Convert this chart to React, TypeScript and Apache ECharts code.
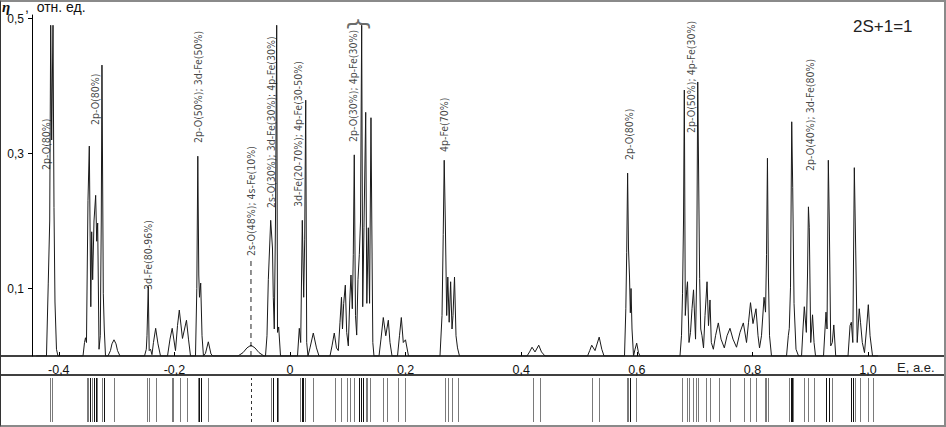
import React, { useEffect, useRef } from 'react';
import * as echarts from 'echarts';

// Spectrum trace: [E (a.e.), eta (rel. units)]
const spectrum: [number, number][] = [
  [-0.4390, 0],
  [-0.4213, 0], [-0.4182, 0.108], [-0.4157, 0.2], [-0.4140, 0.49], [-0.4123, 0.32], [-0.4100, 0.49], [-0.4083, 0.22], [-0.4066, 0.08], [-0.4040, 0.01], [-0.4014, 0],
  [-0.3581, 0], [-0.3555, 0.02], [-0.3538, 0.027], [-0.3521, 0.02], [-0.3495, 0.23], [-0.3472, 0.311], [-0.3446, 0.073], [-0.3431, 0.184], [-0.3414, 0.113], [-0.3391, 0.2], [-0.3362, 0.238], [-0.3344, 0.17], [-0.3327, 0.197], [-0.3304, 0.01], [-0.3282, 0.03], [-0.3265, 0.2], [-0.3253, 0.431], [-0.3230, 0.093], [-0.3213, 0.04], [-0.3192, 0],
  [-0.3149, 0], [-0.3106, 0.008], [-0.3080, 0.018], [-0.3045, 0.024], [-0.3010, 0.018], [-0.2984, 0.008], [-0.2941, 0],
  [-0.2517, 0], [-0.2486, 0.01], [-0.2474, 0.03], [-0.2452, 0.103], [-0.2436, 0.008], [-0.2413, 0.01], [-0.2388, 0.002], [-0.2362, 0.02], [-0.2324, 0.041], [-0.2284, 0.018], [-0.2240, 0],
  [-0.2119, 0], [-0.2076, 0.025], [-0.2038, 0.041], [-0.1981, 0.008], [-0.1946, 0.045], [-0.1915, 0.068], [-0.1860, 0.026], [-0.1791, 0.053], [-0.1756, 0.025], [-0.1721, 0],
  [-0.1635, 0], [-0.1612, 0.1], [-0.1595, 0.296], [-0.1578, 0.12], [-0.1566, 0.087], [-0.1545, 0.108], [-0.1522, 0.03], [-0.1497, 0], [-0.1462, 0.004], [-0.1413, 0.021], [-0.1367, 0.003], [-0.1332, 0],
  [-0.0900, 0], [-0.0813, 0.005], [-0.0744, 0.012], [-0.0675, 0.016], [-0.0606, 0.012], [-0.0536, 0.005], [-0.0450, 0],
  [-0.0424, 0], [-0.0398, 0.03], [-0.0375, 0.113], [-0.0334, 0.201], [-0.0303, 0.16], [-0.0289, 0.087], [-0.0272, 0.04], [-0.0251, 0.2], [-0.0230, 0.49], [-0.0216, 0.035], [-0.0196, 0.043], [-0.0164, 0],
  [0.0130, 0], [0.0161, 0.041], [0.0185, 0.02], [0.0213, 0.201], [0.0237, 0.087], [0.0254, 0.172], [0.0272, 0.379], [0.0289, 0.02], [0.0311, 0], [0.0346, 0.012], [0.0403, 0.034], [0.0458, 0.012], [0.0502, 0],
  [0.0692, 0], [0.0727, 0.015], [0.0766, 0.034], [0.0804, 0.012], [0.0836, 0.008], [0.0865, 0.05], [0.0891, 0.087], [0.0908, 0.04], [0.0929, 0.078], [0.0957, 0.105], [0.0981, 0.035], [0.1009, 0.015], [0.1033, 0.08], [0.1055, 0.12], [0.1078, 0.07], [0.1095, 0.15], [0.1112, 0.298], [0.1133, 0.06], [0.1154, 0.031], [0.1176, 0.113], [0.1199, 0.15], [0.1220, 0.2], [0.1240, 0.49], [0.1258, 0.073], [0.1280, 0.19], [0.1310, 0.361], [0.1329, 0.078], [0.1355, 0.19], [0.1377, 0.078], [0.1401, 0.353], [0.1415, 0.2], [0.1433, 0.02], [0.1453, 0],
  [0.1540, 0], [0.1574, 0.025], [0.1614, 0.057], [0.1657, 0.03], [0.1701, 0.053], [0.1730, 0.02], [0.1765, 0],
  [0.1860, 0], [0.1894, 0.03], [0.1926, 0.057], [0.1960, 0.02], [0.1998, 0.024], [0.2050, 0],
  [0.2595, 0], [0.2630, 0.06], [0.2651, 0.18], [0.2668, 0.29], [0.2687, 0.2], [0.2711, 0.06], [0.2730, 0.117], [0.2754, 0.05], [0.2779, 0.11], [0.2803, 0.04], [0.2820, 0.06], [0.2846, 0.117], [0.2872, 0.03], [0.2898, 0.012], [0.2932, 0],
  [0.4100, 0], [0.4144, 0.006], [0.4187, 0.013], [0.4239, 0.006], [0.4303, 0.016], [0.4351, 0.006], [0.4412, 0],
  [0.5147, 0], [0.5185, 0.008], [0.5220, 0.016], [0.5277, 0.008], [0.5349, 0.028], [0.5394, 0.01], [0.5433, 0],
  [0.5787, 0], [0.5810, 0.07], [0.5825, 0.153], [0.5841, 0.271], [0.5856, 0.16], [0.5874, 0.117], [0.5888, 0.064], [0.5900, 0.1], [0.5917, 0.04], [0.5943, 0], [0.5969, 0.01], [0.5998, 0.019], [0.6029, 0.005], [0.6055, 0],
  [0.6747, 0], [0.6773, 0.03], [0.6791, 0.093], [0.6808, 0.2], [0.6822, 0.394], [0.6839, 0.06], [0.6863, 0.098], [0.6877, 0.11], [0.6903, 0.02], [0.6929, 0.035], [0.6955, 0.07], [0.6981, 0.098], [0.7016, 0.025], [0.7036, 0.12], [0.7054, 0.406], [0.7087, 0.115], [0.7106, 0.04], [0.7128, 0.03], [0.7154, 0.012], [0.7180, 0.06], [0.7215, 0.11], [0.7240, 0.045], [0.7266, 0.083], [0.7289, 0.02], [0.7324, 0.01], [0.7362, 0.03], [0.7410, 0.049], [0.7457, 0.025], [0.7514, 0.012], [0.7561, 0.03], [0.7612, 0.041], [0.7664, 0.025], [0.7725, 0.013], [0.7785, 0.035], [0.7843, 0.049], [0.7898, 0.02], [0.7933, 0.05], [0.7967, 0.079], [0.8010, 0.048], [0.8062, 0.07], [0.8097, 0.03], [0.8123, 0.012], [0.8157, 0.03], [0.8201, 0.087], [0.8227, 0.065], [0.8244, 0.15], [0.8260, 0.293], [0.8277, 0.117], [0.8296, 0.03], [0.8330, 0],
  [0.8590, 0], [0.8621, 0.03], [0.8638, 0.041], [0.8659, 0.102], [0.8680, 0.347], [0.8697, 0.25], [0.8720, 0.078], [0.8754, 0.01], [0.8798, 0],
  [0.8850, 0], [0.8875, 0.04], [0.8898, 0.073], [0.8933, 0.035], [0.8953, 0.12], [0.8969, 0.221], [0.8984, 0.19], [0.9009, 0.02], [0.9040, 0.061], [0.9066, 0.02], [0.9092, 0],
  [0.9230, 0], [0.9256, 0.04], [0.9273, 0.065], [0.9291, 0.04], [0.9313, 0.29], [0.9330, 0.2], [0.9355, 0.015], [0.9382, 0.02], [0.9408, 0.046], [0.9441, 0],
  [0.9654, 0], [0.9689, 0.045], [0.9711, 0.05], [0.9737, 0.02], [0.9763, 0.279], [0.9787, 0.157], [0.9813, 0.02], [0.9848, 0.07], [0.9870, 0.05], [0.9901, 0.02], [0.9939, 0.005], [0.9974, 0.04], [1.0005, 0.076], [1.0035, 0.03], [1.0078, 0],
  [1.0173, 0],
];

// Peak assignments: text, E at label, eta at label start
const labelTexts = [
  '2p-O(80%)', '2p-O(80%)', '3d-Fe(80-96%)', '2p-O(50%); 3d-Fe(50%)', '2s-O(48%); 4s-Fe(10%)',
  '2s-O(30%); 3d-Fe(30%); 4p-Fe(30%)', '3d-Fe(20-70%); 4p-Fe(30-50%)', '2p-O(30%); 4p-Fe(30%)',
  '4p-Fe(70%)', '2p-O(80%)', '2p-O(50%); 4p-Fe(30%)', '2p-O(40%); 3d-Fe(80%)',
];
const labelE = [-0.4221, -0.3374, -0.2448, -0.1583, -0.0675, -0.0320, 0.0138, 0.1090, 0.2664, 0.5865, 0.6938, 0.8997];
const labelEta = [0.2756, 0.3422, 0.0978, 0.3156, 0.1481, 0.2193, 0.2207, 0.3170, 0.3022, 0.2904, 0.3304, 0.2741];

// Dashed marker for the 2s-O level
const dashedMarker: [number, number][] = [[-0.0675, 0], [-0.0675, 0.142]];
// Brace over the 0.12 group
const bracePoint: [number, number][] = [[0.1202, 0.492]];

// Energy levels (lower panel)
const levelsDark = [-0.346, -0.339, -0.336, -0.322, -0.157, -0.154, -0.030, -0.023, 0.020, 0.023, 0.120, 0.123, 0.127, 0.588, 0.866, 0.869, 0.928, 0.933, 0.971, 0.974];
const levelsLight = [
  -0.416, -0.412, -0.352, -0.349, -0.342, -0.334, -0.325, -0.304, -0.248, -0.244, -0.232, -0.205, -0.202, -0.190, -0.179,
  -0.160, -0.141, -0.033, -0.020, 0.017, 0.026, 0.040, 0.078, 0.089, 0.098, 0.104, 0.110, 0.131, 0.134, 0.138,
  0.161, 0.167, 0.187, 0.199, 0.268, 0.274, 0.280, 0.291, 0.420, 0.432, 0.522, 0.535, 0.583, 0.585, 0.599,
  0.679, 0.686, 0.690, 0.698, 0.702, 0.706, 0.720, 0.726, 0.743, 0.761, 0.785, 0.795, 0.806, 0.821, 0.824, 0.827,
  0.863, 0.871, 0.889, 0.896, 0.906, 0.938, 0.977, 0.986, 1.000, 1.009,
];
const levelsDashed = [-0.068];

const xTicks = [-0.4, -0.2, 0, 0.2, 0.4, 0.6, 0.8, 1.0];
const yTicks = [0.1, 0.3, 0.5];

const fmt = (v: number) => (Math.abs(v) < 1e-9 ? '0' : v.toFixed(1).replace('.', ','));
const narrow = '"Liberation Sans Narrow", "Arial Narrow", "DejaVu Sans Condensed", sans-serif';
const sans = '"Liberation Sans", Arial, sans-serif';

function levelRenderer(color: string, dash?: number[]) {
  return (params: any, api: any) => {
    const e = api.value(0);
    const p1 = api.coord([e, 0.06]);
    const p2 = api.coord([e, 0.94]);
    return {
      type: 'line',
      shape: { x1: Math.round(p1[0]) + 0.5, y1: p1[1], x2: Math.round(p2[0]) + 0.5, y2: p2[1] },
      style: { stroke: color, lineWidth: 1, lineDash: dash },
    };
  };
}

export default function App() {
  const ref = useRef<HTMLDivElement>(null);
  useEffect(() => {
    document.body.style.margin = '0';
    const chart = echarts.init(ref.current!, null, { renderer: 'svg' });
    const xMin = -0.5017;
    const xMax = 1.1349;
    chart.setOption({
      animation: false,
      backgroundColor: '#fff',
      title: [
        {
          text: 'η', left: 2, top: 1, padding: 0,
          textStyle: { fontSize: 15, lineHeight: 12, fontWeight: 'bold', fontStyle: 'italic', fontFamily: '"Liberation Serif", serif', color: '#111' },
        },
        {
          text: ',  отн. ед.', left: 25, top: 1, padding: 0,
          textStyle: { fontSize: 14, lineHeight: 12, fontWeight: 'normal', fontFamily: sans, color: '#111' },
        },
        { text: '2S+1=1', left: 853, top: 18, padding: 0, textStyle: { fontSize: 17, fontWeight: 'normal', fontFamily: sans, color: '#222' } },
        { text: 'E, a.e.', left: 897, top: 361, padding: 0, textStyle: { fontSize: 13, fontWeight: 'normal', fontFamily: sans, color: '#222' } },
      ],
      grid: [
        { left: 0, right: 0, top: 15, bottom: 71 },
        { left: 0, right: 0, top: 375, bottom: 2 },
      ],
      xAxis: [
        {
          type: 'value', gridIndex: 0, min: xMin, max: xMax,
          axisLine: { show: true, lineStyle: { color: '#000', width: 1.5 } },
          axisTick: { show: true, inside: true, length: 4, customValues: xTicks, lineStyle: { color: '#000' } },
          axisLabel: { show: true, customValues: xTicks, formatter: fmt, margin: 7, fontSize: 12.5, color: '#111', fontFamily: sans },
          splitLine: { show: false },
        },
        {
          type: 'value', gridIndex: 1, min: xMin, max: xMax, position: 'top',
          axisLine: { show: true, onZero: false, lineStyle: { color: '#000', width: 1.5 } },
          axisTick: { show: false }, axisLabel: { show: false }, splitLine: { show: false },
        },
      ],
      yAxis: [
        {
          type: 'value', gridIndex: 0, min: 0, max: 0.5052, position: 'left', offset: -32,
          axisLine: { show: true, onZero: false, lineStyle: { color: '#000', width: 1 } },
          axisTick: { show: true, length: 4, customValues: yTicks, lineStyle: { color: '#000' } },
          axisLabel: { show: true, customValues: yTicks, formatter: fmt, margin: 8, fontSize: 12, lineHeight: 10, color: '#111', fontFamily: sans },
          splitLine: { show: false },
        },
        {
          type: 'value', gridIndex: 1, min: 0, max: 1, show: false,
        },
      ],
      series: [
        {
          type: 'line', xAxisIndex: 0, yAxisIndex: 0, data: spectrum, showSymbol: false, symbol: 'none',
          lineStyle: { color: '#1a1a1a', width: 1 }, silent: true, z: 3,
        },
        {
          type: 'line', xAxisIndex: 0, yAxisIndex: 0, data: dashedMarker, showSymbol: false, symbol: 'none',
          lineStyle: { color: '#222', width: 1, type: [5, 4] }, silent: true,
        },
        {
          type: 'scatter', xAxisIndex: 0, yAxisIndex: 0, symbolSize: 0, silent: true, z: 4,
          data: labelTexts.map((t, i) => ({ value: [labelE[i], labelEta[i]], name: t })),
          label: {
            show: true, position: 'inside', rotate: 90, align: 'left', verticalAlign: 'middle',
            formatter: (p: any) => p.name, fontSize: 10.5, fontFamily: narrow, color: '#111',
          },
        },
        {
          type: 'scatter', xAxisIndex: 0, yAxisIndex: 0, symbolSize: 0, silent: true, z: 4,
          data: bracePoint,
          label: {
            show: true, position: 'inside', rotate: -90, align: 'center', verticalAlign: 'middle',
            formatter: '{', fontSize: 24, fontFamily: '"DejaVu Sans", sans-serif', color: '#444',
          },
        },
        {
          type: 'custom', xAxisIndex: 1, yAxisIndex: 1, silent: true,
          data: levelsLight.map((e) => [e, 0]),
          renderItem: levelRenderer('#7a7a7a'),
        },
        {
          type: 'custom', xAxisIndex: 1, yAxisIndex: 1, silent: true,
          data: levelsDark.map((e) => [e, 0]),
          renderItem: levelRenderer('#111'),
        },
        {
          type: 'custom', xAxisIndex: 1, yAxisIndex: 1, silent: true,
          data: levelsDashed.map((e) => [e, 0]),
          renderItem: levelRenderer('#333', [3, 3]),
        },
      ],
    });
    return () => chart.dispose();
  }, []);
  return (
    <div style={{ position: 'absolute', left: 0, top: 0, width: 946, height: 427, background: '#fff' }}>
      <div ref={ref} style={{ width: 946, height: 427 }} />
      <div
        style={{
          position: 'absolute', left: 0, top: 0, width: 946, height: 427, boxSizing: 'border-box',
          borderTop: '2px solid #8a8a8a', borderLeft: '1px solid #333', borderRight: '2px solid #8a8a8a',
          borderBottom: '2px solid #8a8a8a', pointerEvents: 'none',
        }}
      />
    </div>
  );
}
